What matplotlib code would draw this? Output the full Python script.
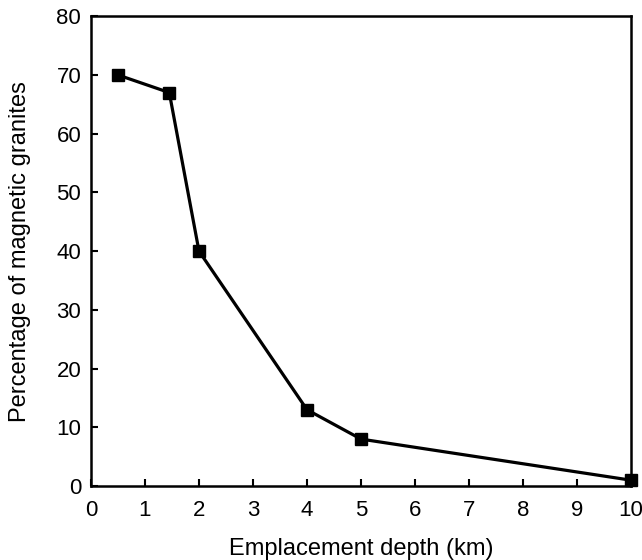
import matplotlib
matplotlib.use("Agg")
import matplotlib.pyplot as plt

plt.rcParams['font.family'] = ['Liberation Sans', 'DejaVu Sans']

# emplacement depth (km) vs share of magnetic granites (%)
depth = [0.5, 1.45, 2, 4, 5, 10]
percent = [70, 67, 40, 13, 8, 1]

fig = plt.figure(figsize=(6.42, 5.6), dpi=100)
ax = fig.add_axes([0.1417, 0.132, 0.8413, 0.839])

ax.plot(depth, percent, color="black", lw=2.3, marker="s", ms=8.5,
        clip_on=False, zorder=3)

ax.set_xlim(0, 10)
ax.set_ylim(0, 80)
ax.set_xticks(range(0, 11))
ax.set_yticks(range(0, 81, 10))
ax.tick_params(direction="in", length=5, width=1.5, labelsize=16,
               top=False, right=False)
ax.tick_params(axis="x", pad=10)
ax.tick_params(axis="y", pad=7)
for s in ax.spines.values():
    s.set_linewidth(1.8)

ax.set_xlabel("Emplacement depth (km)", fontsize=17, labelpad=12)
ax.set_ylabel("Percentage of magnetic granites", fontsize=17, labelpad=18)

fig.savefig("out.png", dpi=100)
